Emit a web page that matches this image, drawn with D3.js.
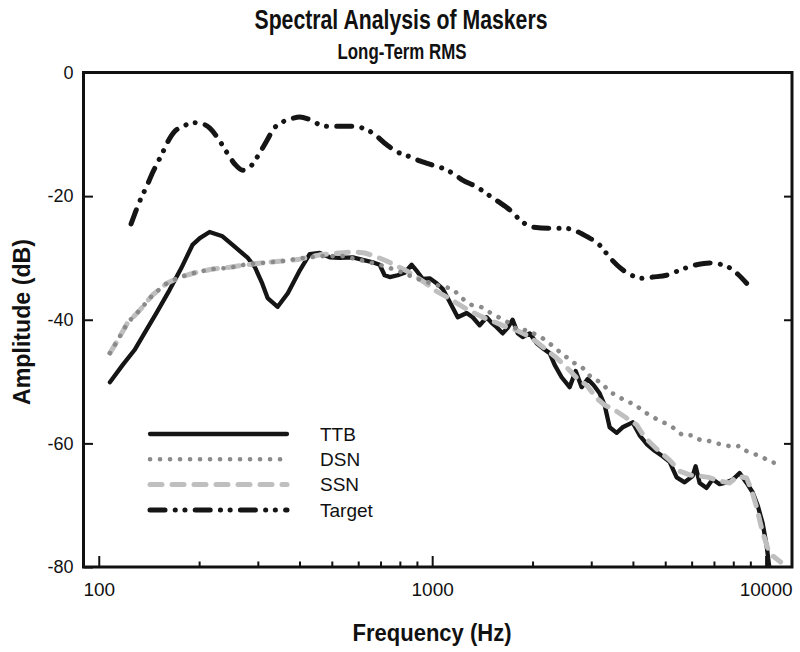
<!DOCTYPE html>
<html>
<head>
<meta charset="utf-8">
<script src="https://cdn.jsdelivr.net/npm/d3@7"></script>
<style>
  html, body { margin: 0; padding: 0; background: #fff; }
  svg { display: block; font-family: "Liberation Sans", Arial, Helvetica, sans-serif; }
</style>
</head>
<body>
<svg id="chart" width="800" height="652"></svg>
<script>
// ---------------- data (frequency Hz, amplitude dB) ----------------
const seriesNames = ["TTB", "DSN", "SSN", "Target"];

const ttb = [
  [108,-50.1],[118,-47.3],[128,-44.9],[137,-42.2],[149,-38.9],[163,-35.2],[177,-31.6],[191,-27.9],
  [201,-26.8],[215,-25.8],[235,-26.5],[252,-27.9],[280,-30.0],[294,-31.5],[308,-33.9],[321,-36.5],
  [344,-37.9],[369,-35.7],[401,-32.0],[429,-29.4],[460,-29.2],[493,-29.9],[528,-30.0],[578,-29.9],
  [619,-30.3],[663,-30.7],[696,-31.1],[720,-32.8],[746,-33.1],[788,-32.8],[827,-32.4],[868,-31.1],
  [905,-32.3],[937,-33.4],[983,-33.3],[1031,-34.1],[1075,-35.0],[1128,-37.1],[1193,-39.6],[1269,-38.9],
  [1323,-39.6],[1388,-40.9],[1457,-39.6],[1508,-40.5],[1561,-41.2],[1627,-42.2],[1684,-41.3],[1743,-40.0],
  [1805,-42.2],[1868,-42.8],[1961,-42.2],[2058,-43.8],[2145,-44.6],[2251,-45.4],[2330,-47.3],[2445,-49.3],
  [2584,-50.9],[2694,-48.3],[2808,-50.9],[2927,-49.6],[3051,-50.6],[3178,-51.9],[3290,-53.8],[3406,-57.4],
  [3574,-58.3],[3725,-57.4],[3993,-56.6],[4190,-58.7],[4398,-60.1],[4648,-61.2],[4912,-62.1],[5154,-63.0],
  [5410,-65.5],[5717,-66.3],[6041,-65.3],[6168,-63.7],[6341,-66.4],[6654,-67.2],[6936,-65.8],[7280,-66.6],
  [7641,-66.3],[7961,-65.9],[8356,-64.8],[8770,-66.4],[9141,-67.9],[9463,-70.0],[9795,-72.9],[10070,-76.5],
  [10280,-80.5]
];

const dsn = [
  [108,-45.4],[114,-43.3],[122,-40.5],[133,-38.4],[145,-36.0],[160,-34.1],[175,-33.1],[197,-32.3],
  [220,-31.8],[247,-31.6],[278,-31.0],[310,-30.8],[356,-30.5],[409,-30.0],[470,-29.7],[539,-29.7],
  [606,-30.3],[696,-31.1],[783,-32.0],[905,-33.4],[1031,-34.4],[1152,-35.0],[1226,-36.5],[1313,-37.6],
  [1398,-37.9],[1487,-38.8],[1583,-39.6],[1684,-40.4],[1792,-41.5],[1920,-41.7],[2029,-42.3],[2145,-43.0],
  [2282,-44.1],[2412,-45.2],[2549,-46.2],[2713,-47.3],[2828,-47.8],[3009,-49.4],[3223,-50.2],[3406,-51.7],
  [3599,-52.3],[3830,-53.3],[4049,-53.6],[4279,-54.8],[4490,-55.4],[4713,-56.1],[4980,-56.7],[5262,-57.4],
  [5638,-58.7],[6041,-58.7],[6385,-59.5],[6747,-59.6],[7131,-60.0],[7588,-60.3],[8017,-60.6],[8356,-60.4],
  [8650,-61.1],[9078,-61.6],[9463,-61.9],[9795,-62.2],[10280,-63.0],[10790,-63.2]
];

const ssn = [
  [108,-45.4],[114,-43.3],[122,-40.5],[133,-38.4],[145,-36.0],[160,-34.1],[175,-33.1],[197,-32.3],
  [220,-31.8],[247,-31.5],[278,-31.1],[310,-30.8],[356,-30.5],[401,-30.2],[460,-29.5],[528,-29.2],
  [586,-29.0],[628,-29.2],[672,-29.7],[730,-30.5],[783,-31.3],[839,-32.1],[899,-33.1],[963,-34.2],
  [1031,-35.4],[1105,-36.3],[1184,-37.3],[1269,-38.3],[1360,-39.1],[1457,-39.9],[1561,-40.5],[1673,-41.2],
  [1792,-41.7],[1920,-42.5],[2058,-43.6],[2205,-44.9],[2363,-46.2],[2531,-47.7],[2713,-49.4],[2907,-50.6],
  [3114,-52.7],[3290,-53.8],[3526,-54.6],[3778,-55.7],[4105,-57.0],[4338,-59.0],[4713,-60.9],[5154,-62.7],
  [5523,-64.5],[5918,-65.1],[6341,-65.3],[6747,-65.5],[7280,-66.1],[7801,-66.4],[8241,-65.3],[8770,-65.6],
  [9078,-67.6],[9398,-70.3],[9795,-74.4],[10140,-76.9],[10500,-78.2],[11090,-79.2]
];

const target = [
  [125,-24.5],[134.5,-20.1],[139.3,-18.4],[144.2,-16.5],[151.4,-14.2],[155.6,-12.9],[161.1,-11.2],
  [169.1,-9.5],[178.6,-8.8],[190.1,-8.1],[200.9,-8.2],[215.3,-9.0],[227.5,-10.6],[242,-12.9],[255.8,-14.8],
  [270.3,-15.8],[287.6,-15.0],[304,-13.0],[321,-10.8],[332.5,-9.3],[356.3,-8.0],[381.8,-7.4],[400.8,-7.2],
  [423.6,-7.5],[453.9,-8.3],[486.4,-8.7],[528.5,-8.7],[577.9,-8.7],[619.2,-9.0],[663.5,-9.8],[730.9,-11.7],
  [788.8,-12.9],[845.2,-13.5],[918.3,-14.3],[1004,-15.0],[1075,-15.5],[1152,-16.3],[1234,-17.4],[1359,-18.5],
  [1466,-19.7],[1571,-20.8],[1707,-22.2],[1867,-24.2],[2000,-25.0],[2250,-25.2],[2495,-25.2],[2924,-26.6],
  [3177,-27.9],[3404,-29.9],[3700,-31.8],[3964,-32.8],[4276,-33.3],[4581,-33.1],[5047,-32.8],[5636,-31.8],
  [6209,-31.1],[6794,-30.8],[7279,-31.0],[7800,-31.6],[8245,-32.6],[8770,-34.1]
];

const xMajorTicks = [100, 1000, 10000];
const xMajorLabels = ["100", "1000", "10000"];
const xMinorTicks = [200,300,400,500,600,700,800,900,2000,3000,4000,5000,6000,7000,8000,9000];
const yTicks = [0, -20, -40, -60, -80];
const yTickLabels = ["0", "-20", "-40", "-60", "-80"];

const titleText = "Spectral Analysis of Maskers";
const subtitleText = "Long-Term RMS";
const xTitle = "Frequency (Hz)";
const yTitle = "Amplitude (dB)";

// ---------------- layout ----------------
const svg = d3.select("#chart");
const L = 83.5, R = 792, T = 72.5, B = 567;

const x = d3.scaleLog().domain([90, 12000]).range([L, R]);
const y = d3.scaleLinear().domain([-80, 0]).range([B, T]);

const styles = {
  TTB:    { stroke: "#151515", width: 4.3, dash: null, cap: "round" },
  DSN:    { stroke: "#8a8a8a", width: 4.6, dash: "0.1,9.9", cap: "round" },
  SSN:    { stroke: "#bfbfbf", width: 5, dash: "12,10", cap: "round" },
  Target: { stroke: "#151515", width: 5, dash: "15,10.2,0.1,9.6,0.1,10.2", cap: "round" }
};
const dataBy = { TTB: ttb, DSN: dsn, SSN: ssn, Target: target };

svg.append("defs").append("clipPath").attr("id", "plotclip")
  .append("rect").attr("x", L).attr("y", T).attr("width", R - L).attr("height", B - T);

// condensed bold titles (fitted widths)
function condensedText(sel, cx, cy, size, len, txt, rotate) {
  const t = sel.append("text")
    .attr("text-anchor", "middle").attr("font-size", size).attr("font-weight", "bold")
    .attr("fill", "#111").attr("textLength", len).attr("lengthAdjust", "spacingAndGlyphs").text(txt);
  if (rotate) t.attr("transform", `translate(${cx},${cy}) rotate(-90)`);
  else t.attr("x", cx).attr("y", cy);
  return t;
}
condensedText(svg, 401, 29, 27, 293, titleText);
condensedText(svg, 402, 59, 22, 129, subtitleText);

// axes
const gx = svg.append("g").attr("transform", `translate(0,${B})`);
gx.call(d3.axisBottom(x).tickValues(xMinorTicks).tickSize(-5.5).tickSizeOuter(0).tickFormat(""));
gx.append("g").call(d3.axisBottom(x).tickValues(xMajorTicks).tickSizeOuter(0).tickSize(-11)
  .tickFormat((d, i) => xMajorLabels[i]));
gx.selectAll(".domain").remove();
gx.selectAll("line").attr("stroke", "#111").attr("stroke-width", 2);
gx.selectAll("text").attr("y", 29).attr("dy", 0).attr("font-size", 19)
  .attr("fill", "#111").attr("font-family", "Liberation Sans, Arial, sans-serif");

const gy = svg.append("g").attr("transform", `translate(${L},0)`);
gy.call(d3.axisLeft(y).tickValues(yTicks).tickSize(-9.5).tickSizeOuter(0)
  .tickFormat((d, i) => yTickLabels[i]));
gy.selectAll(".domain").remove();
gy.selectAll("line").attr("stroke", "#111").attr("stroke-width", 2);
gy.selectAll("text").attr("x", -10).attr("font-size", 18).attr("fill", "#111")
  .attr("font-family", "Liberation Sans, Arial, sans-serif");

const gy2 = svg.append("g").attr("transform", `translate(${R},0)`);
gy2.call(d3.axisRight(y).tickValues(yTicks.slice(1, -1)).tickSize(-8).tickSizeOuter(0).tickFormat(""));
gy2.selectAll(".domain").remove();
gy2.selectAll("line").attr("stroke", "#111").attr("stroke-width", 2);

// frame
svg.append("rect").attr("x", L).attr("y", T).attr("width", R - L).attr("height", B - T)
  .attr("fill", "none").attr("stroke", "#111").attr("stroke-width", 3);

// axis titles
condensedText(svg, 432, 641, 24, 159, xTitle);
condensedText(svg, 30, 322, 24, 166, yTitle, true);

// lines
const drawOrder = ["TTB", "SSN", "DSN", "Target"];
const plot = svg.append("g").attr("clip-path", "url(#plotclip)");
drawOrder.forEach(name => {
  const s = styles[name];
  const gen = d3.line().x(d => x(d[0])).y(d => y(d[1]));
  if (name === "Target") gen.curve(d3.curveMonotoneX);
  plot.append("path").datum(dataBy[name])
    .attr("fill", "none").attr("stroke", s.stroke).attr("stroke-width", s.width)
    .attr("stroke-linecap", s.cap).attr("stroke-linejoin", "round")
    .attr("stroke-dasharray", s.dash)
    .attr("d", gen);
});

// legend
const legY0 = 434, legStep = 25.3, legX1 = 150, legX2 = 287, legTextX = 320;
const leg = svg.append("g");
seriesNames.forEach((name, i) => {
  const s = styles[name];
  const yy = legY0 + i * legStep;
  leg.append("line").attr("x1", legX1).attr("x2", legX2).attr("y1", yy).attr("y2", yy)
    .attr("stroke", s.stroke).attr("stroke-width", s.width).attr("stroke-linecap", s.cap)
    .attr("stroke-dasharray", s.dash);
  leg.append("text").attr("x", legTextX).attr("y", yy).attr("dy", "0.36em")
    .attr("font-size", 19).attr("fill", "#111").text(name);
});
</script>
</body>
</html>
